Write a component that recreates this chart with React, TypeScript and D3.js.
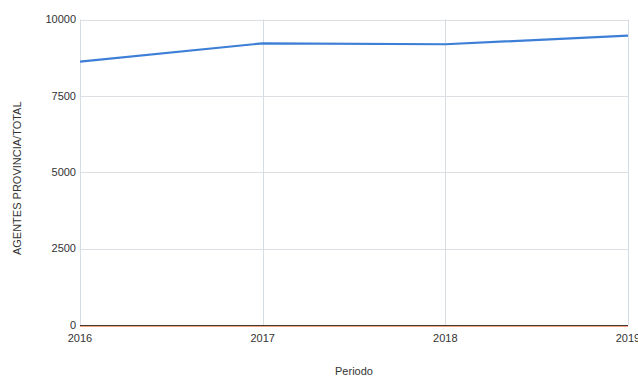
import React from "react";
import * as d3 from "d3";

// Agentes provinciales por período
const periods = [2016, 2017, 2018, 2019];
const agentes = [8620, 9220, 9190, 9470];
const yTicks = [0, 2500, 5000, 7500, 10000];

const W = 638;
const H = 376;
const margin = { top: 19.5, right: 10, bottom: 51, left: 80 };
const FONT = "'Liberation Sans', Arial, sans-serif";

export default function App() {
  const x = d3
    .scaleLinear()
    .domain([2016, 2019])
    .range([margin.left, W - margin.right]);
  const y = d3
    .scaleLinear()
    .domain([0, 10000])
    .range([H - margin.bottom, margin.top]);

  const line = d3
    .line<number>()
    .x((_, i) => x(periods[i]))
    .y((d) => y(d));

  const [x0, x1] = x.range();
  const [yb, yt] = y.range();

  return (
    <svg
      width={W}
      height={H}
      style={{ position: "absolute", left: 0, top: 0, background: "#fff" }}
    >
      {/* horizontal grid */}
      {yTicks.map((t) => (
        <line
          key={"h" + t}
          x1={x0}
          x2={x1}
          y1={Math.round(y(t)) + 0.5}
          y2={Math.round(y(t)) + 0.5}
          stroke="#dcdfe3"
          strokeWidth={1}
        />
      ))}
      {/* vertical grid */}
      {periods.map((p) => (
        <line
          key={"v" + p}
          x1={Math.round(x(p)) + 0.5}
          x2={Math.round(x(p)) + 0.5}
          y1={yt}
          y2={yb}
          stroke="#d5dce2"
          strokeWidth={1}
        />
      ))}
      {/* baseline */}
      <line
        x1={x0}
        x2={x1}
        y1={Math.round(y(0)) + 0.5}
        y2={Math.round(y(0)) + 0.5}
        stroke="#4a3a33"
        strokeWidth={1}
      />
      <line
        x1={x0}
        x2={x1}
        y1={Math.round(y(0)) + 1.5}
        y2={Math.round(y(0)) + 1.5}
        stroke="#f2a27a"
        strokeWidth={1}
      />

      {/* series */}
      <path
        d={line(agentes) ?? ""}
        fill="none"
        stroke="#3d7fd6"
        strokeWidth={2.2}
        strokeLinejoin="round"
      />

      {/* y tick labels */}
      {yTicks.map((t) => (
        <text
          key={"yl" + t}
          x={x0 - 4}
          y={y(t)}
          dy="0.35em"
          textAnchor="end"
          fontFamily={FONT}
          fontSize={11}
          fill="#333"
        >
          {t}
        </text>
      ))}
      {/* x tick labels */}
      {periods.map((p) => (
        <text
          key={"xl" + p}
          x={x(p)}
          y={yb + 13}
          dy="0.35em"
          textAnchor="middle"
          fontFamily={FONT}
          fontSize={11}
          fill="#333"
        >
          {p}
        </text>
      ))}

      {/* axis titles */}
      <text
        x={(x0 + x1) / 2}
        y={371}
        dy="0.35em"
        textAnchor="middle"
        fontFamily={FONT}
        fontSize={11}
        fill="#333"
      >
        Periodo
      </text>
      <text
        transform={`translate(17, ${(yt + yb) / 2 + 6}) rotate(-90)`}
        dy="0.35em"
        textAnchor="middle"
        fontFamily={FONT}
        fontSize={11}
        fill="#333"
      >
        AGENTES PROVINCIA/TOTAL
      </text>
    </svg>
  );
}
